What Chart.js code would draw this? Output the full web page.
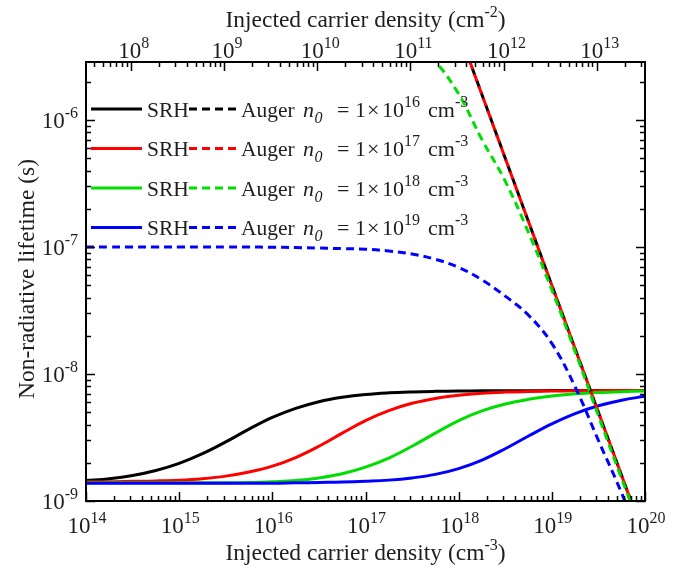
<!DOCTYPE html>
<html>
<head>
<meta charset="utf-8">
<script src="https://cdn.jsdelivr.net/npm/chart.js@4.4.1/dist/chart.umd.min.js"></script>
<style>
  body { margin: 0; background: #fff; }
  #wrap { width: 682px; height: 569px; }
</style>
</head>
<body>
<div id="wrap"><canvas id="lifetime"></canvas></div>
<script>
// injected carrier density grid (cm^-3), quarter decades
const density = [1e14, 1.78e14, 3.16e14, 5.62e14, 1e15, 1.78e15, 3.16e15, 5.62e15,
  1e16, 1.78e16, 3.16e16, 5.62e16, 1e17, 1.78e17, 3.16e17, 5.62e17,
  1e18, 1.78e18, 3.16e18, 5.62e18, 1e19, 1.78e19, 3.16e19, 5.62e19, 1e20];

// SRH lifetime (s)
const srhN16 = [1.45e-9, 1.50e-9, 1.59e-9, 1.74e-9, 1.98e-9, 2.36e-9, 2.92e-9, 3.68e-9,
  4.55e-9, 5.36e-9, 6.05e-9, 6.55e-9, 6.90e-9, 7.11e-9, 7.23e-9, 7.30e-9,
  7.34e-9, 7.37e-9, 7.38e-9, 7.39e-9, 7.40e-9, 7.40e-9, 7.40e-9, 7.40e-9, 7.40e-9];
const srhN17 = [1.42e-9, 1.42e-9, 1.43e-9, 1.44e-9, 1.46e-9, 1.50e-9, 1.57e-9, 1.69e-9,
  1.88e-9, 2.20e-9, 2.70e-9, 3.42e-9, 4.30e-9, 5.15e-9, 5.88e-9, 6.42e-9,
  6.80e-9, 7.05e-9, 7.20e-9, 7.29e-9, 7.34e-9, 7.37e-9, 7.39e-9, 7.40e-9, 7.40e-9];
const srhN18 = [1.39e-9, 1.39e-9, 1.39e-9, 1.39e-9, 1.39e-9, 1.39e-9, 1.39e-9, 1.40e-9,
  1.42e-9, 1.45e-9, 1.52e-9, 1.64e-9, 1.85e-9, 2.18e-9, 2.70e-9, 3.42e-9,
  4.30e-9, 5.12e-9, 5.80e-9, 6.32e-9, 6.72e-9, 6.98e-9, 7.15e-9, 7.26e-9, 7.33e-9];
const srhN19 = [1.38e-9, 1.38e-9, 1.38e-9, 1.38e-9, 1.38e-9, 1.38e-9, 1.38e-9, 1.38e-9,
  1.38e-9, 1.39e-9, 1.40e-9, 1.41e-9, 1.43e-9, 1.46e-9, 1.52e-9, 1.62e-9,
  1.80e-9, 2.10e-9, 2.58e-9, 3.25e-9, 4.05e-9, 4.88e-9, 5.62e-9, 6.22e-9, 6.68e-9];

// Auger lifetime (s)
const augerSteepX = [1e18, 1e19, 1e20];
const augerN16 = [5.0e-6, 5.0e-8, 5.0e-10];
const augerN17 = [5.0e-6, 5.0e-8, 5.0e-10];
const augerN18X = [3.16e17, 5.62e17, 1e18, 1.78e18, 3.16e18, 5.62e18, 1e19, 1.78e19, 3.16e19, 5.62e19, 1e20];
const augerN18 = [4.4e-6, 2.9e-6, 1.6e-6, 7.0e-7, 3.3e-7, 1.3e-7, 4.6e-8, 1.5e-8, 4.7e-9, 1.5e-9, 4.9e-10];
const augerN19 = [1.0e-7, 1.0e-7, 1.0e-7, 1.0e-7, 1.0e-7, 1.0e-7, 1.0e-7, 1.0e-7,
  9.95e-8, 9.9e-8, 9.8e-8, 9.7e-8, 9.6e-8, 9.3e-8, 8.8e-8, 8.0e-8,
  6.9e-8, 5.5e-8, 4.1e-8, 2.9e-8, 1.74e-8, 7.9e-9, 3.0e-9, 1.15e-9, 3.9e-10];

const dopingExp = ['16', '17', '18', '19'];
const colors = ['#000000', '#ff0000', '#00dd00', '#0000ff'];

const bottomTicks = [1e14, 1e15, 1e16, 1e17, 1e18, 1e19, 1e20];
const leftTicks = [1e-9, 1e-8, 1e-7, 1e-6];
const topTicks = [1e8, 1e9, 1e10, 1e11, 1e12, 1e13];
const sheetFactor = 3.3e-7; // cm, converts cm^-3 to cm^-2

const FONT = '"Liberation Serif", "Times New Roman", serif';
const INK = '#1e1e1e';

function pts(xs, ys) { return xs.map((x, i) => ({ x: x, y: ys[i] })); }

function line(data, color, dashed, order, offset) {
  return {
    data: data,
    borderColor: color,
    borderWidth: 3,
    borderDash: dashed ? [8, 5] : [],
    borderDashOffset: offset || 0,
    pointRadius: 0,
    fill: false,
    tension: 0.4,
    order: order
  };
}

function setFont(ctx, p) {
  ctx.font = (p.it ? 'italic ' : '') + p.s + 'px ' + FONT;
}

function richText(ctx, parts, x, y, align) {
  let w = 0;
  parts.forEach(p => { setFont(ctx, p); w += ctx.measureText(p.t).width; });
  let cx = align === 'center' ? x - w / 2 : (align === 'right' ? x - w : x);
  parts.forEach(p => {
    setFont(ctx, p);
    ctx.fillText(p.t, cx, y + (p.dy || 0));
    cx += ctx.measureText(p.t).width;
  });
}

function power(v) {
  return [{ t: '10', s: 23 }, { t: String(Math.round(Math.log10(v))), s: 16, dy: -10 }];
}

function logTicks(min, max) {
  const out = [];
  for (let e = Math.floor(Math.log10(min)); e <= Math.ceil(Math.log10(max)); e++) {
    for (let k = 1; k <= 9; k++) {
      const v = k * Math.pow(10, e);
      if (v >= min * 0.999 && v <= max * 1.001) out.push({ v: v, major: k === 1 });
    }
  }
  return out;
}

const axesPlugin = {
  id: 'axesPlugin',
  afterDatasetsDraw(chart) {
    const { ctx, chartArea: a, scales } = chart;
    const sx = scales.x, sx2 = scales.x2, sy = scales.y;
    ctx.save();
    ctx.strokeStyle = '#000';
    ctx.lineWidth = 1.5;
    ctx.beginPath();
    logTicks(sx.min, sx.max).forEach(t => {
      const p = Math.round(sx.getPixelForValue(t.v)) + 0.5, L = t.major ? 9 : 5;
      ctx.moveTo(p, a.bottom); ctx.lineTo(p, a.bottom - L);
    });
    logTicks(sx2.min, sx2.max).forEach(t => {
      const p = Math.round(sx2.getPixelForValue(t.v)) + 0.5, L = t.major ? 9 : 5;
      ctx.moveTo(p, a.top); ctx.lineTo(p, a.top + L);
    });
    logTicks(sy.min, sy.max).forEach(t => {
      const p = Math.round(sy.getPixelForValue(t.v)) + 0.5, L = t.major ? 9 : 5;
      ctx.moveTo(a.left, p); ctx.lineTo(a.left + L, p);
      ctx.moveTo(a.right, p); ctx.lineTo(a.right - L, p);
    });
    ctx.stroke();
    ctx.lineWidth = 2;
    ctx.strokeRect(a.left, a.top, a.right - a.left, a.bottom - a.top);

    // tick labels
    ctx.fillStyle = INK;
    ctx.textBaseline = 'alphabetic';
    bottomTicks.forEach(v => richText(ctx, power(v), sx.getPixelForValue(v) + 1, 533, 'center'));
    topTicks.forEach(v => richText(ctx, power(v), sx2.getPixelForValue(v) + 3, 58, 'center'));
    leftTicks.forEach(v => richText(ctx, power(v), 78, sy.getPixelForValue(v) + 8, 'right'));

    // axis titles
    const title3 = [{ t: 'Injected carrier density (cm', s: 23.5 }, { t: '-3', s: 16, dy: -10 }, { t: ')', s: 23.5 }];
    const title2 = [{ t: 'Injected carrier density (cm', s: 23.5 }, { t: '-2', s: 16, dy: -10 }, { t: ')', s: 23.5 }];
    richText(ctx, title3, (a.left + a.right) / 2, 560, 'center');
    richText(ctx, title2, (a.left + a.right) / 2, 27, 'center');
    ctx.save();
    ctx.translate(34, 279);
    ctx.rotate(-Math.PI / 2);
    richText(ctx, [{ t: 'Non-radiative lifetime (s)', s: 23.5 }], 0, 0, 'center');
    ctx.restore();

    // legend
    dopingExp.forEach((ex, i) => {
      const yy = 109 + i * 39.5;
      const base = yy + 7.5;
      ctx.strokeStyle = colors[i];
      ctx.lineWidth = 3;
      ctx.setLineDash([]);
      ctx.beginPath(); ctx.moveTo(91, yy); ctx.lineTo(142, yy); ctx.stroke();
      ctx.setLineDash([8, 5]);
      ctx.beginPath(); ctx.moveTo(189, yy); ctx.lineTo(241, yy); ctx.stroke();
      ctx.setLineDash([]);
      ctx.fillStyle = INK;
      richText(ctx, [{ t: 'SRH', s: 21.5 }], 147, base, 'left');
      richText(ctx, [{ t: 'Auger', s: 21.5 }], 241, base, 'left');
      richText(ctx, [{ t: 'n', s: 22, it: true }], 303, base, 'left');
      richText(ctx, [{ t: '0', s: 16, it: true }], 314.5, base + 6, 'left');
      richText(ctx, [{ t: '=', s: 22 }], 337, base, 'left');
      richText(ctx, [{ t: '1', s: 22 }], 355, base, 'left');
      richText(ctx, [{ t: '\u00d7', s: 22 }], 367, base, 'left');
      richText(ctx, [{ t: '10', s: 22 }, { t: ex, s: 16, dy: -10 }], 382, base, 'left');
      richText(ctx, [{ t: 'cm', s: 22 }, { t: '-3', s: 16, dy: -10 }], 428, base, 'left');
    });
    ctx.restore();
  }
};

new Chart(document.getElementById('lifetime'), {
  type: 'line',
  data: {
    datasets: [
      line(pts(density, srhN16), colors[0], false, 14),
      line(pts(density, srhN17), colors[1], false, 13),
      line(pts(density, srhN18), colors[2], false, 12),
      line(pts(density, srhN19), colors[3], false, 11),
      line(pts(augerSteepX, augerN16), colors[0], true, 4),
      line(pts(augerSteepX, augerN17), colors[1], true, 3, 6.5),
      line(pts(augerN18X, augerN18), colors[2], true, 2),
      line(pts(density, augerN19), colors[3], true, 1)
    ]
  },
  options: {
    responsive: true,
    maintainAspectRatio: false,
    animation: false,
    layout: { padding: { top: 62, right: 37, bottom: 68, left: 86 } },
    plugins: { legend: { display: false }, tooltip: { enabled: false } },
    scales: {
      x: { type: 'logarithmic', min: 1e14, max: 1e20, display: false },
      x2: { type: 'logarithmic', position: 'top', min: 1e14 * sheetFactor, max: 1e20 * sheetFactor, display: false },
      y: { type: 'logarithmic', min: 1e-9, max: 2.86e-6, display: false }
    }
  },
  plugins: [axesPlugin]
});
</script>
</body>
</html>
